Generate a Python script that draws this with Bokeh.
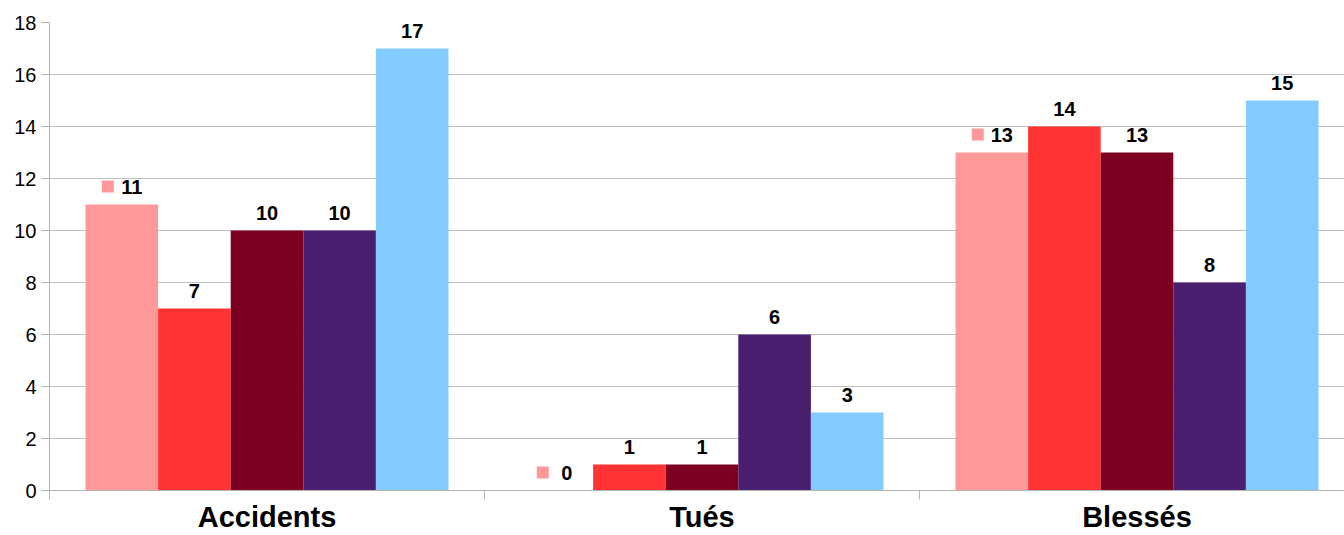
from bokeh.plotting import figure
from bokeh.models import FixedTicker, Range1d, ColumnDataSource
from bokeh.core.properties import value
from bokeh.embed import file_html
from bokeh.resources import INLINE

categories = ["Accidents", "Tués", "Blessés"]
series_names = ["Série 1", "Série 2", "Série 3", "Série 4", "Série 5"]
s1 = [11, 0, 13]
s2 = [7, 1, 14]
s3 = [10, 1, 13]
s4 = [10, 6, 8]
s5 = [17, 3, 15]
series = [s1, s2, s3, s4, s5]
colors = ["#FF9999", "#FF3333", "#7E0021", "#4B1F6F", "#83CAFF"]
y_ticks = list(range(0, 19, 2))

FONT = "Liberation Sans"
px_per_x = 435.0
bar_w = 72.6 / px_per_x
px_per_y = 469 / 18.0

p = figure(width=1344, height=535, output_backend="svg", toolbar_location=None,
           x_range=Range1d(0, (1344 - 49) / px_per_x), y_range=Range1d(0, 18),
           min_border_left=49, min_border_right=0, min_border_top=22, min_border_bottom=44)
p.outline_line_color = None
p.background_fill_color = "white"
p.border_fill_color = "white"

centers = [i + 0.5 for i in range(len(categories))]

for si, (vals, col) in enumerate(zip(series, colors)):
    xs = [c + (si - 2) * bar_w for c in centers]
    src = ColumnDataSource(dict(x=xs, top=vals, lab=[str(v) for v in vals]))
    p.vbar(x="x", top="top", bottom=0, width=bar_w, source=src, fill_color=col, line_color=None)
    if si == 0:
        p.text(x="x", y="top", text="lab", source=src, text_align="center", text_baseline="middle",
               x_offset=10, y_offset=-18, text_font=value(FONT), text_font_style="bold",
               text_font_size="20px", text_color="black")
        ksrc = ColumnDataSource(dict(x=[x - 14 / px_per_x for x in xs],
                                     y=[v + 18 / px_per_y for v in vals]))
        p.rect(x="x", y="y", width=12, height=12, width_units="screen", height_units="screen",
               source=ksrc, fill_color=col, line_color=None)
    else:
        p.text(x="x", y="top", text="lab", source=src, text_align="center", text_baseline="middle",
               y_offset=-18, text_font=value(FONT), text_font_style="bold",
               text_font_size="20px", text_color="black")

grid_col = "#C0C0C0"
p.xgrid.visible = False
p.ygrid.ticker = FixedTicker(ticks=y_ticks)
p.ygrid.grid_line_color = grid_col
p.ygrid.grid_line_width = 1

p.yaxis.ticker = FixedTicker(ticks=y_ticks)
p.yaxis.axis_line_color = "#B3B3B3"
p.yaxis.major_tick_line_color = "#B3B3B3"
p.yaxis.major_tick_out = 8
p.yaxis.major_tick_in = 0
p.yaxis.minor_tick_line_color = None
p.yaxis.major_label_text_font = FONT
p.yaxis.major_label_text_font_size = "20px"
p.yaxis.major_label_text_color = "black"
p.yaxis.major_label_standoff = 5

p.xaxis.ticker = FixedTicker(ticks=centers, minor_ticks=[0, 1, 2, 3])
p.xaxis.major_label_overrides = {c: n for c, n in zip(centers, categories)}
p.xaxis.axis_line_color = "#B3B3B3"
p.xaxis.major_tick_line_color = None
p.xaxis.minor_tick_line_color = "#B3B3B3"
p.xaxis.minor_tick_out = 9
p.xaxis.minor_tick_in = 0
p.xaxis.major_label_text_font = FONT
p.xaxis.major_label_text_font_style = "bold"
p.xaxis.major_label_text_font_size = "29px"
p.xaxis.major_label_text_color = "black"
p.xaxis.major_label_standoff = 1

open("out.html", "w").write(file_html(p, INLINE))
